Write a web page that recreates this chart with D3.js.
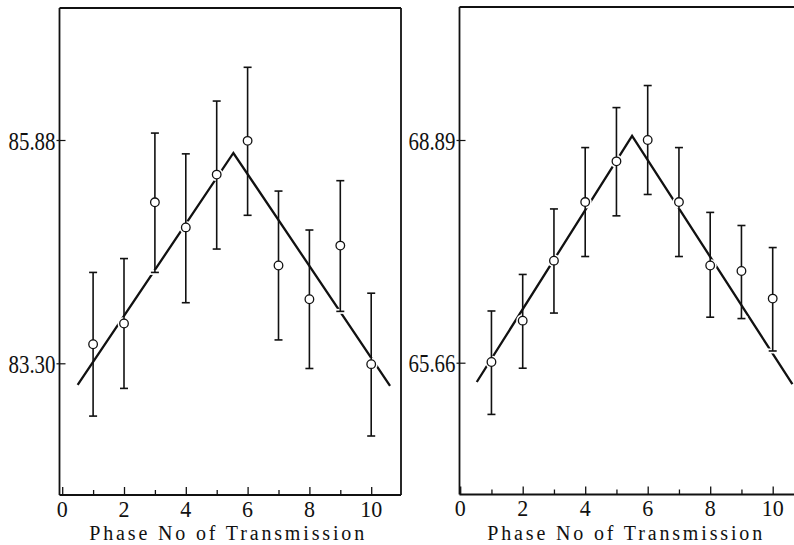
<!DOCTYPE html>
<html>
<head>
<meta charset="utf-8">
<script src="https://cdn.jsdelivr.net/npm/d3@7"></script>
<style>
  body { margin: 0; background: #fff; }
  svg { display: block; }
  svg text { font-family: "Liberation Serif"; }
</style>
</head>
<body>
<div id="chart"></div>
<script>
var phases = [1, 2, 3, 4, 5, 6, 7, 8, 9, 10];

// left panel
var leftMean = [83.52, 83.76, 85.16, 84.87, 85.48, 85.87, 84.43, 84.04, 84.66, 83.29];
var leftHigh = [84.35, 84.51, 85.96, 85.72, 86.33, 86.72, 85.29, 84.84, 85.41, 84.11];
var leftLow  = [82.69, 83.01, 84.35, 84.00, 84.62, 85.01, 83.57, 83.24, 83.90, 82.46];
var leftFitX = [0.5, 5.54, 10.61];
var leftFitY = [83.05, 85.73, 83.04];
var leftYTicks = [83.30, 85.88];

// right panel
var rightMean = [65.67, 66.27, 67.14, 67.99, 68.58, 68.89, 67.99, 67.07, 66.99, 66.59];
var rightHigh = [66.41, 66.94, 67.89, 68.78, 69.36, 69.68, 68.78, 67.84, 67.65, 67.33];
var rightLow  = [64.91, 65.58, 66.38, 67.20, 67.79, 68.10, 67.20, 66.32, 66.30, 65.83];
var rightFitX = [0.53, 5.5, 10.63];
var rightFitY = [65.38, 68.95, 65.35];
var rightYTicks = [65.66, 68.89];

var xMajor = [0, 2, 4, 6, 8, 10];
var xMinor = [1, 3, 5, 7, 9];
var xTitle = "Phase No of Transmission";

var W = 794, H = 545;

var svg = d3.select("#chart")
  .append("svg")
  .attr("width", W)
  .attr("height", H);

function panel(geom, mean, low, high, fitX, fitY, yTicks) {
  var x = d3.scaleLinear().domain([0, 10]).range([geom.x0, geom.x10]);
  var y = d3.scaleLinear().domain(geom.yDom).range(geom.yRange);

  var g = svg.append("g");

  // frame
  var frame = [[geom.left, geom.top, geom.right, geom.top],
               [geom.left, geom.top, geom.left, geom.bottom],
               [geom.left, geom.bottom, geom.right, geom.bottom]];
  if (geom.rightBorder) frame.push([geom.right, geom.top, geom.right, geom.bottom]);
  g.selectAll(".frame")
    .data(frame).enter()
    .append("line")
    .attr("x1", function(d) { return d[0]; })
    .attr("y1", function(d) { return d[1]; })
    .attr("x2", function(d) { return d[2]; })
    .attr("y2", function(d) { return d[3]; })
    .attr("stroke", "#111")
    .attr("stroke-width", 1.8);

  // x axis, ticks pointing into the plot
  var xAxisMajor = d3.axisBottom(x).tickValues(xMajor).tickSize(-8).tickFormat("");
  var xAxisMinor = d3.axisBottom(x).tickValues(xMinor).tickSize(-5).tickFormat("");
  [xAxisMajor, xAxisMinor].forEach(function(ax) {
    var a = g.append("g")
      .attr("transform", "translate(0," + geom.bottom + ")")
      .call(ax);
    a.select(".domain").remove();
    a.selectAll("line").attr("stroke", "#111").attr("stroke-width", 1.3);
  });

  g.selectAll(".xlab")
    .data(xMajor).enter()
    .append("text")
    .attr("x", function(d) { return x(d); })
    .attr("y", geom.bottom + 21.5)
    .attr("text-anchor", "middle")
    .style("font-size", "24px")
    .attr("fill", "#111")
    .attr("textLength", function(d) { return String(d).length * 11; })
    .attr("lengthAdjust", "spacingAndGlyphs")
    .text(function(d) { return d; });

  // y axis
  var ya = g.append("g")
    .attr("transform", "translate(" + geom.left + ",0)")
    .call(d3.axisLeft(y).tickValues(yTicks).tickSize(3).tickFormat(""));
  ya.select(".domain").remove();
  ya.selectAll("line").attr("x1", 6).attr("stroke", "#111").attr("stroke-width", 1.2);

  g.selectAll(".ylab")
    .data(yTicks).enter()
    .append("text")
    .attr("x", geom.left - 4)
    .attr("y", function(d) { return y(d) + 9.5; })
    .attr("text-anchor", "end")
    .style("font-size", "26px")
    .attr("fill", "#111")
    .attr("textLength", 47)
    .attr("lengthAdjust", "spacingAndGlyphs")
    .text(function(d) { return d3.format(".2f")(d); });

  g.append("text")
    .attr("x", geom.x0 + 27)
    .attr("y", 540)
    .style("font-size", "20px")
    .attr("fill", "#111")
    .attr("textLength", 275)
    .attr("lengthAdjust", "spacing")
    .text(xTitle);

  // fitted broken line
  var line = d3.line()
    .x(function(d) { return x(d[0]); })
    .y(function(d) { return y(d[1]); });
  g.append("path")
    .attr("d", line(fitX.map(function(v, i) { return [v, fitY[i]]; })))
    .attr("fill", "none")
    .attr("stroke", "#111")
    .attr("stroke-width", 2.3);

  var pts = phases.map(function(p, i) {
    return {p: p, m: mean[i], lo: low[i], hi: high[i]};
  });

  // white halos, so the line breaks near caps and circles like in print
  pts.forEach(function(d) {
    [d.lo, d.hi].forEach(function(v) {
      g.append("line")
        .attr("x1", x(d.p) - 6).attr("x2", x(d.p) + 6)
        .attr("y1", y(v)).attr("y2", y(v))
        .attr("stroke", "#fff").attr("stroke-width", 5);
    });
    g.append("circle")
      .attr("cx", x(d.p)).attr("cy", y(d.m)).attr("r", 6.5)
      .attr("fill", "#fff");
  });

  var eb = g.selectAll(".eb")
    .data(pts).enter()
    .append("g")
    .attr("stroke", "#111")
    .attr("stroke-width", 1.6);
  eb.append("line")
    .attr("x1", function(d) { return x(d.p); })
    .attr("x2", function(d) { return x(d.p); })
    .attr("y1", function(d) { return y(d.hi); })
    .attr("y2", function(d) { return y(d.lo); });
  eb.append("line")
    .attr("x1", function(d) { return x(d.p) - 4; })
    .attr("x2", function(d) { return x(d.p) + 4; })
    .attr("y1", function(d) { return y(d.hi); })
    .attr("y2", function(d) { return y(d.hi); });
  eb.append("line")
    .attr("x1", function(d) { return x(d.p) - 4; })
    .attr("x2", function(d) { return x(d.p) + 4; })
    .attr("y1", function(d) { return y(d.lo); })
    .attr("y2", function(d) { return y(d.lo); });
  eb.append("circle")
    .attr("cx", function(d) { return x(d.p); })
    .attr("cy", function(d) { return y(d.m); })
    .attr("r", 4.3)
    .attr("fill", "#fff")
    .attr("stroke-width", 1.3);
}

panel({x0: 62.2, x10: 371.2, left: 59.5, right: 401, top: 8, bottom: 495,
       yDom: [83.30, 85.88], yRange: [363.3, 140], rightBorder: true},
      leftMean, leftLow, leftHigh, leftFitX, leftFitY, leftYTicks);

panel({x0: 460.2, x10: 772.7, left: 459.5, right: 794, top: 7, bottom: 494.5,
       yDom: [65.66, 68.89], yRange: [362.7, 140], rightBorder: false},
      rightMean, rightLow, rightHigh, rightFitX, rightFitY, rightYTicks);
</script>
</body>
</html>
